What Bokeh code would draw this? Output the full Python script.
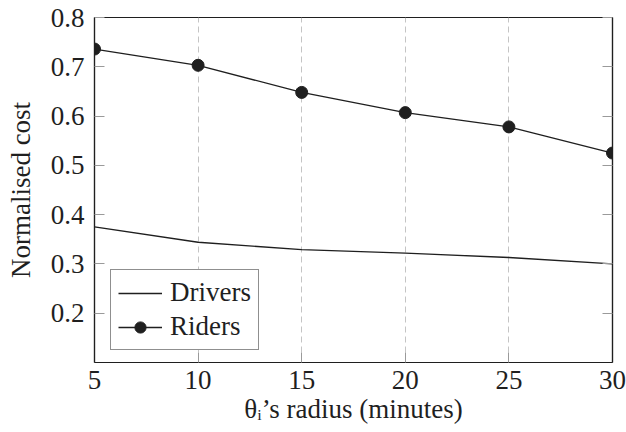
from bokeh.plotting import figure
from bokeh.models import LinearAxis, FixedTicker, Legend, CustomJSTickFormatter
from bokeh.embed import file_html
from bokeh.resources import INLINE

radius = [5, 10, 15, 20, 25, 30]
drivers = [0.375, 0.344, 0.329, 0.322, 0.313, 0.300]
riders = [0.736, 0.703, 0.648, 0.607, 0.578, 0.525]
x_ticks = [5, 10, 15, 20, 25, 30]
y_ticks = [0.2, 0.3, 0.4, 0.5, 0.6, 0.7, 0.8]
grid_ticks = [10, 15, 20, 25]

FONT = "Liberation Serif"
INK = "#1f1f1f"
TICK = "#9a9a9a"

p = figure(width=626, height=432, x_range=(5, 30), y_range=(0.1, 0.8),
           output_backend="svg", toolbar_location=None,
           min_border_left=94, min_border_right=14, min_border_top=17, min_border_bottom=70)
p.outline_line_color = INK
p.outline_line_width = 1.2
p.background_fill_color = "white"
p.border_fill_color = "white"

def style_axis(ax):
    ax.major_tick_in = 10
    ax.major_tick_out = 0
    ax.minor_tick_line_color = None
    ax.major_tick_line_color = TICK
    ax.major_tick_line_width = 1
    ax.axis_line_color = INK
    ax.axis_line_width = 1.2
    ax.major_label_text_font = FONT
    ax.major_label_text_font_size = "27px"
    ax.major_label_text_color = INK
    ax.axis_label_text_font = FONT
    ax.axis_label_text_font_size = "27px"
    ax.axis_label_text_font_style = "normal"
    ax.axis_label_text_color = INK

xa = p.xaxis[0]
xa.ticker = FixedTicker(ticks=x_ticks)
style_axis(xa)
xa.major_label_standoff = 8
xa.axis_label = "θᵢ’s radius (minutes)"
xa.axis_label_standoff = 2

ya = p.yaxis[0]
ya.ticker = FixedTicker(ticks=y_ticks)
style_axis(ya)
ya.major_label_standoff = 10
ya.axis_label = "Normalised cost"
ya.axis_label_standoff = 12

blank = CustomJSTickFormatter(code="return ''")
ra = LinearAxis(ticker=FixedTicker(ticks=y_ticks), formatter=blank)
style_axis(ra)
ra.major_label_standoff = 0
p.add_layout(ra, "right")

p.xgrid.ticker = FixedTicker(ticks=grid_ticks)
p.xgrid.grid_line_color = "#c4c4c4"
p.xgrid.grid_line_dash = "6 4"
p.xgrid.grid_line_width = 1
p.ygrid.visible = False

r1 = p.line(radius, drivers, line_color=INK, line_width=1.3)
r2 = p.line(radius, riders, line_color=INK, line_width=1.3)
r3 = p.scatter(radius, riders, size=12, marker="circle", fill_color=INK, line_color=INK)

legend = Legend(items=[("Drivers", [r1]), ("Riders", [r2, r3])],
                location=(16, 12))
legend.border_line_color = INK
legend.border_line_width = 1.2
legend.background_fill_alpha = 1
legend.label_text_font = FONT
legend.label_text_font_size = "27px"
legend.label_text_color = INK
legend.glyph_width = 44
legend.glyph_height = 28
legend.label_height = 28
legend.spacing = 3
legend.padding = 7
legend.margin = 0
legend.label_standoff = 8
p.add_layout(legend, "center")

open("out.html", "w").write(file_html(p, INLINE))
